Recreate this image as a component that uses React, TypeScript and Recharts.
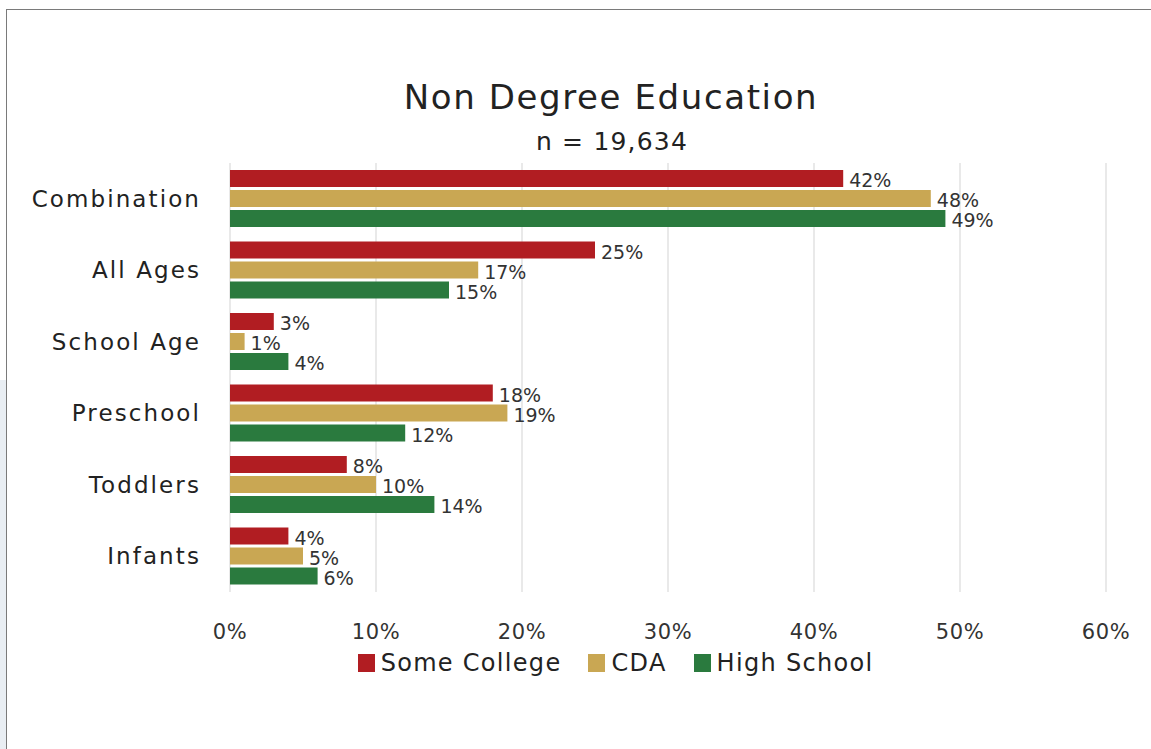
import React from 'react';
import { Bar, BarChart, CartesianGrid, LabelList, XAxis, YAxis } from 'recharts';

const categories = ['Combination', 'All Ages', 'School Age', 'Preschool', 'Toddlers', 'Infants'];
const someCollege = [42, 25, 3, 18, 8, 4];
const cda = [48, 17, 1, 19, 10, 5];
const highSchool = [49, 15, 4, 12, 14, 6];
const xTicks = [0, 10, 20, 30, 40, 50, 60];

const seriesInfo = [
  { key: 'someCollege', name: 'Some College', color: '#b11d22' },
  { key: 'cda', name: 'CDA', color: '#c9a753' },
  { key: 'highSchool', name: 'High School', color: '#2a7a3e' },
];

const data = categories.map((label, i) => ({
  label,
  someCollege: someCollege[i],
  cda: cda[i],
  highSchool: highSchool[i],
}));

const font = '"DejaVu Sans", sans-serif';
const pct = (v: any) => `${v}%`;

export default function App() {
  return (
    <div style={{ position: 'fixed', left: 0, top: 0, width: 1151, height: 749, background: '#fff', fontFamily: font, overflow: 'hidden' }}>
      <div style={{ position: 'absolute', left: 0, top: 380, width: 6, bottom: 0, background: '#e9eef3' }} />
      <div style={{ position: 'absolute', left: 6, top: 9, right: 0, bottom: 0, borderTop: '1.5px solid #7a7a7a', borderLeft: '1.5px solid #7a7a7a' }} />
      <div style={{ position: 'absolute', left: 0, width: 1222, top: 77, textAlign: 'center', fontSize: 34, letterSpacing: 1.6, color: '#222' }}>
        Non Degree Education
      </div>
      <div style={{ position: 'absolute', left: 0, width: 1224, top: 127, textAlign: 'center', fontSize: 25, letterSpacing: 1.2, color: '#222' }}>
        n = 19,634
      </div>
      <div style={{ position: 'absolute', left: 0, top: 0 }}>
        <BarChart
          width={1151}
          height={749}
          data={data}
          layout="vertical"
          margin={{ top: 163, right: 45, left: 0, bottom: 97 }}
          barCategoryGap={7}
          barGap={3}
        >
          <CartesianGrid horizontal={false} stroke="#e2e2e2" strokeWidth={1.5} />
          <XAxis
            type="number"
            domain={[0, 60]}
            ticks={xTicks}
            tickFormatter={pct}
            axisLine={false}
            tickLine={false}
            tickSize={0}
            tickMargin={32}
            height={60}
            tick={{ fontSize: 21, fill: '#333', fontFamily: font, letterSpacing: 0.6 }}
          />
          <YAxis
            type="category"
            dataKey="label"
            width={230}
            axisLine={false}
            tickLine={false}
            tickSize={0}
            tickMargin={29}
            tick={{ fontSize: 23, fill: '#222', fontFamily: font, letterSpacing: 2.1 }}
          />
          {seriesInfo.map((s) => (
            <Bar key={s.key} dataKey={s.key} name={s.name} fill={s.color} isAnimationActive={false}>
              <LabelList
                dataKey={s.key}
                position="right"
                offset={6}
                formatter={pct}
                style={{ fontSize: 19, fill: '#333', fontFamily: font, transform: 'translateY(2px)' }}
              />
            </Bar>
          ))}
        </BarChart>
      </div>
      <div style={{ position: 'absolute', top: 649, left: 0, width: 1231, display: 'flex', justifyContent: 'center', fontSize: 24, letterSpacing: 1.3, color: '#222' }}>
        {seriesInfo.map((s, i) => (
          <div key={s.key} style={{ display: 'flex', alignItems: 'center', marginRight: i < 2 ? 27 : 0 }}>
            <span style={{ display: 'inline-block', width: 17, height: 18, background: s.color, marginRight: 6 }} />
            {s.name}
          </div>
        ))}
      </div>
    </div>
  );
}
